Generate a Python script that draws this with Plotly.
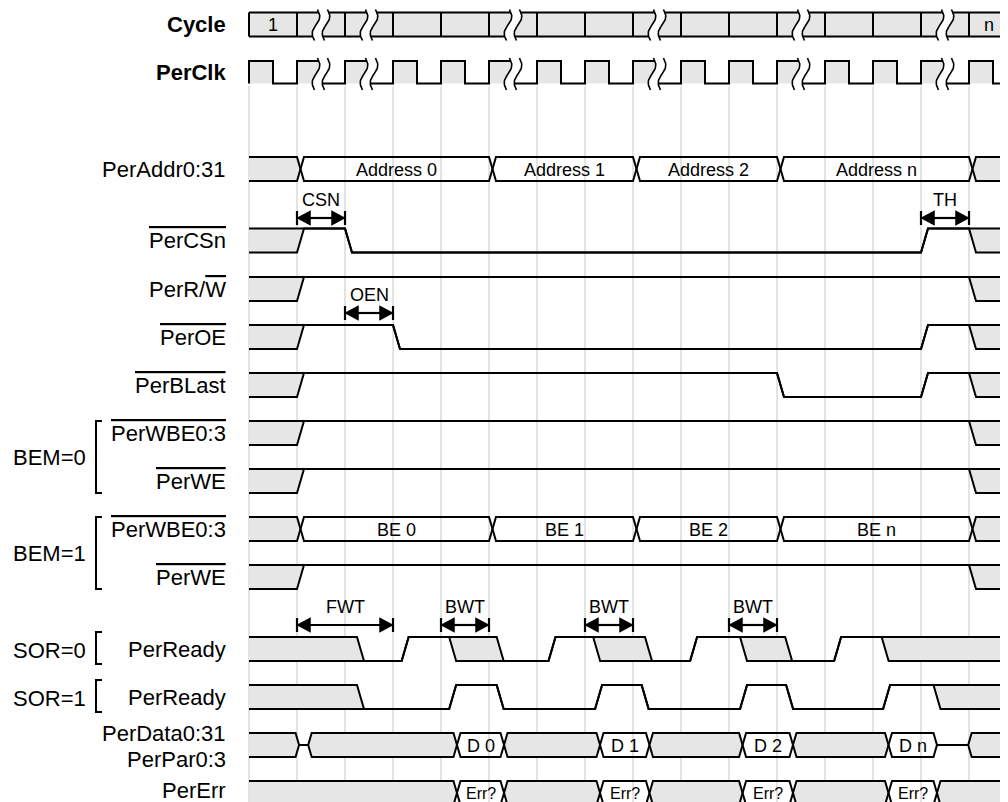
import numpy as np
import plotly.graph_objects as go

# ---------------------------------------------------------------- data
CYCLE_STARTS = list(range(16))            # PerClk rising edges (cycle index)
CYCLE_TEXT = {0: "1", 15: "n"}
BREAK_CELLS = [1, 2, 5, 8, 11, 14]        # cycles drawn with a time-break mark

ADDR_TIMES = [1, 5, 8, 11, 15]
ADDR_VALUES = ["X", "Address 0", "Address 1", "Address 2", "Address n", "X"]

CSN_TIMES = [1, 2, 14, 15]
CSN_STATES = ["X", "H", "L", "H", "X"]
RW_TIMES = [1, 15]
RW_STATES = ["X", "H", "X"]
OE_TIMES = [1, 3, 14, 15]
OE_STATES = ["X", "H", "L", "H", "X"]
BLAST_TIMES = [1, 11, 14, 15]
BLAST_STATES = ["X", "H", "L", "H", "X"]

WBE0_TIMES = [1, 15]
WBE0_STATES = ["X", "H", "X"]
WE0_TIMES = [1, 15]
WE0_STATES = ["X", "H", "X"]

BE_TIMES = [1, 5, 8, 11, 15]
BE_VALUES = ["X", "BE 0", "BE 1", "BE 2", "BE n", "X"]
WE1_TIMES = [1, 15]
WE1_STATES = ["X", "H", "X"]

READY0_TIMES = [2.25, 3.18, 4.17, 5.16, 6.24, 7.17, 8.25, 9.19, 10.23, 11.17, 12.19, 13.18]
READY0_STATES = ["X", "L", "H", "X", "L", "H", "X", "L", "H", "X", "L", "H", "X"]
READY1_TIMES = [2.25, 4.17, 5.16, 7.21, 8.18, 10.23, 11.19, 13.21, 14.26]
READY1_STATES = ["X", "L", "H", "L", "H", "L", "H", "L", "H", "X"]

DATA_TIMES = [0.97, 1.16, 4.26, 5.24, 7.24, 8.27, 10.21, 11.26, 13.25, 14.26, 14.91]
DATA_VALUES = ["X", "Z", "X", "D 0", "X", "D 1", "X", "D 2", "X", "D n", "Z", "X"]
ERR_TIMES = [4.26, 5.24, 7.24, 8.27, 10.21, 11.26, 13.25, 14.26]
ERR_VALUES = ["X", "Err?", "X", "Err?", "X", "Err?", "X", "Err?", "X"]

TIMING_ARROWS = [("CSN", 1, 2, "csn"), ("TH", 14, 15, "csn"), ("OEN", 2, 3, "oe"),
                 ("FWT", 1, 3, "rdy"), ("BWT", 4, 5, "rdy"), ("BWT", 7, 8, "rdy"),
                 ("BWT", 10, 11, "rdy")]

# ---------------------------------------------------------------- layout / style
W, H = 1008, 802          # window size (page pixels)
PAGE_OFF = 8              # default body margin of the html page
X0_PX, PX_CYC = 249.0, 48.0


def t_of(px):
    return (px - X0_PX) / PX_CYC


def dt(px):
    return px / PX_CYC


T_MIN, T_MAX = 0.0, t_of(W)
TR = dt(7)
HALF = 12
INK = "#000000"
GRAY = "#e6e6e6"
GRID = "#dcdcdc"
FONT = "Liberation Sans, Arial, sans-serif"
LW = 2.0

ROW = dict(cycle=24.5, clk=72, addr=169, csn=240.5, rw=289, oe=337, blast=385,
           wbe0=433, we0=481, wbe1=529, we1=577, rdy0=649, rdy1=697, data=745, err=793)
ARROW_Y = dict(csn=218, oe=313, rdy=625)

fig = go.Figure()


def line(xs, ys, w=LW, color=INK):
    fig.add_trace(go.Scatter(x=list(xs), y=list(ys), mode="lines",
                             line=dict(color=color, width=w), hoverinfo="skip",
                             showlegend=False))


def poly(xs, ys, color, edge=0):
    xs, ys = list(xs), list(ys)
    fig.add_trace(go.Scatter(x=xs + [xs[0]], y=ys + [ys[0]], mode="lines", fill="toself",
                             fillcolor=color, line=dict(width=edge, color=color),
                             hoverinfo="skip", showlegend=False))


def text(x, y, s, size=18, anchor="center", color=INK):
    fig.add_annotation(x=x, y=y, text=s, showarrow=False, xref="x", yref="y",
                       xanchor=anchor, yanchor="middle",
                       font=dict(family=FONT, size=size, color=color))


# grid lines
for k in CYCLE_STARTS:
    fig.add_shape(type="line", x0=k, x1=k, y0=86, y1=H, xref="x", yref="y",
                  line=dict(color=GRID, width=1.6), layer="below")

# ---------------------------------------------------------------- single-bit signals
LEVEL = {"H": (-1, -1), "L": (1, 1), "X": (-1, 1)}


def bit_signal(times, states, yc):
    up = [(T_MIN, yc + HALF * LEVEL[states[0]][0])]
    dn = [(T_MIN, yc + HALF * LEVEL[states[0]][1])]
    for t, a, b in zip(times, states[:-1], states[1:]):
        up += [(t, yc + HALF * LEVEL[a][0]), (t + TR, yc + HALF * LEVEL[b][0])]
        dn += [(t, yc + HALF * LEVEL[a][1]), (t + TR, yc + HALF * LEVEL[b][1])]
    up.append((T_MAX, yc + HALF * LEVEL[states[-1]][0]))
    dn.append((T_MAX, yc + HALF * LEVEL[states[-1]][1]))
    pts = up + dn[::-1]
    poly([p[0] for p in pts], [p[1] for p in pts], GRAY)
    line([p[0] for p in up], [p[1] for p in up])
    line([p[0] for p in dn], [p[1] for p in dn])


# ---------------------------------------------------------------- bus signals
def bus(times, values, yc, size=18):
    bounds = [T_MIN] + list(times) + [T_MAX]
    top, bot, mid = yc - HALF, yc + HALF, yc
    n = len(values)
    for i, v in enumerate(values):
        a, b = bounds[i], bounds[i + 1]
        first, last = i == 0, i == n - 1
        if v == "Z":
            line([a + TR / 2, b + TR / 2], [mid, mid])
            continue
        P = [(a, top)] if first else [(a + TR / 2, mid), (a + TR, top)]
        P += [(b, top), (b, bot)] if last else [(b, top), (b + TR / 2, mid), (b, bot)]
        P += [(a, bot)] if first else [(a + TR, bot)]
        if v == "X":
            poly([p[0] for p in P], [p[1] for p in P], GRAY)
        xl = a if first else a + TR
        for edge in (top, bot):
            xs = ([] if first else [a + TR / 2]) + [xl, b] + ([] if last else [b + TR / 2])
            ys = ([] if first else [mid]) + [edge, edge] + ([] if last else [mid])
            line(xs, ys)
        if v != "X":
            text((xl + b) / 2, mid + 0.5, v, size=size)


# ---------------------------------------------------------------- cycle row + clock
cy = ROW["cycle"]
poly([0, T_MAX, T_MAX, 0], [cy - HALF, cy - HALF, cy + HALF, cy + HALF], GRAY)
line([0, T_MAX], [cy - HALF, cy - HALF])
line([0, T_MAX], [cy + HALF, cy + HALF])
for k in CYCLE_STARTS:
    line([k, k], [cy - HALF, cy + HALF])
for k, s in CYCLE_TEXT.items():
    right = min(k + 1, T_MAX)
    text((k + right) / 2, cy + 0.5, s, size=18)

c_hi, c_lo = ROW["clk"] - 11, ROW["clk"] + 11.5
cx, cyy = [], []
for k in CYCLE_STARTS:
    poly([k, k + 0.5, k + 0.5, k], [c_hi, c_hi, c_lo, c_lo], GRAY)
    cx += [k, k, k + 0.5, k + 0.5]
    cyy += [c_lo, c_hi, c_hi, c_lo]
cx.append(T_MAX)
cyy.append(c_lo)
line(cx, cyy)

# break marks
s = np.linspace(0, 1, 30)
for k in BREAK_CELLS:
    xc = k + 0.5
    for (y0, y1) in [(cy - HALF - 3, cy + HALF + 4), (c_hi - 3, c_lo + 6.5)]:
        ys = y0 + s * (y1 - y0)
        wig = dt(3.0) * np.sin(2 * np.pi * s) + dt(1.5) * (0.5 - s) * 2
        xa = xc - dt(5) + wig
        xb = xc + dt(5) + wig
        poly(list(xa) + list(xb[::-1]), list(ys) + list(ys[::-1]), "#ffffff")
        line(xa, ys, w=1.6)
        line(xb, ys, w=1.6)

# ---------------------------------------------------------------- signals
bus(ADDR_TIMES, ADDR_VALUES, ROW["addr"])
bit_signal(CSN_TIMES, CSN_STATES, ROW["csn"])
bit_signal(RW_TIMES, RW_STATES, ROW["rw"])
bit_signal(OE_TIMES, OE_STATES, ROW["oe"])
bit_signal(BLAST_TIMES, BLAST_STATES, ROW["blast"])
bit_signal(WBE0_TIMES, WBE0_STATES, ROW["wbe0"])
bit_signal(WE0_TIMES, WE0_STATES, ROW["we0"])
bus(BE_TIMES, BE_VALUES, ROW["wbe1"])
bit_signal(WE1_TIMES, WE1_STATES, ROW["we1"])
bit_signal(READY0_TIMES, READY0_STATES, ROW["rdy0"])
bit_signal(READY1_TIMES, READY1_STATES, ROW["rdy1"])
bus(DATA_TIMES, DATA_VALUES, ROW["data"])
bus(ERR_TIMES, ERR_VALUES, ROW["err"], size=16)

# ---------------------------------------------------------------- timing arrows
HL, HH, BAR = dt(13), 6.5, 7
for lab, t1, t2, key in TIMING_ARROWS:
    y = ARROW_Y[key]
    line([t1 + HL * 0.8, t2 - HL * 0.8], [y, y], w=2.2)
    poly([t1 + dt(1), t1 + HL, t1 + HL], [y, y - HH, y + HH], INK, edge=1.5)
    poly([t2 - dt(1), t2 - HL, t2 - HL], [y, y - HH, y + HH], INK, edge=1.5)
    line([t1, t1], [y - BAR, y + BAR], w=2.2)
    line([t2, t2], [y - BAR, y + BAR], w=2.2)
    text((t1 + t2) / 2, y - 18, lab, size=18)

# ---------------------------------------------------------------- labels
def OL(s):
    return '<span style="text-decoration:overline">' + s + '</span>'


LABEL_X = t_of(228)
LABELS = [
    ("<b>Cycle</b>", ROW["cycle"]), ("<b>PerClk</b>", ROW["clk"]),
    ("PerAddr0:31", ROW["addr"]), (OL("PerCSn"), ROW["csn"]),
    ("PerR/" + OL("W"), ROW["rw"]), (OL("PerOE"), ROW["oe"]),
    (OL("PerBLast"), ROW["blast"]), (OL("PerWBE0:3"), ROW["wbe0"]),
    (OL("PerWE"), ROW["we0"]), (OL("PerWBE0:3"), ROW["wbe1"]),
    (OL("PerWE"), ROW["we1"]), ("PerReady", ROW["rdy0"]), ("PerReady", ROW["rdy1"]),
    ("PerData0:31", 733), ("PerPar0:3", 759), ("PerErr", 790),
]
for s_, y in LABELS:
    text(LABEL_X, y, s_, size=22, anchor="right")

GROUPS = [("BEM=0", 457, 421, 493), ("BEM=1", 553, 517, 589),
          ("SOR=0", 650, 632, 664), ("SOR=1", 698, 680, 712)]
BX, BT = t_of(96), t_of(102)
for lab, yc, y0, y1 in GROUPS:
    text(t_of(11), yc, lab, size=22, anchor="left")
    line([BT, BX, BX, BT], [y0, y0, y1, y1])

# the figure is placed PAGE_OFF px from the page corner, so the axes cover
# page pixels PAGE_OFF..W and PAGE_OFF..H
fig.update_layout(
    width=W - PAGE_OFF, height=H - PAGE_OFF, margin=dict(l=0, r=0, t=0, b=0),
    paper_bgcolor="white", plot_bgcolor="white", showlegend=False,
    xaxis=dict(range=[t_of(PAGE_OFF), t_of(W)], visible=False, fixedrange=True),
    yaxis=dict(range=[H, PAGE_OFF], visible=False, fixedrange=True),
)
fig.write_html("out.html")
